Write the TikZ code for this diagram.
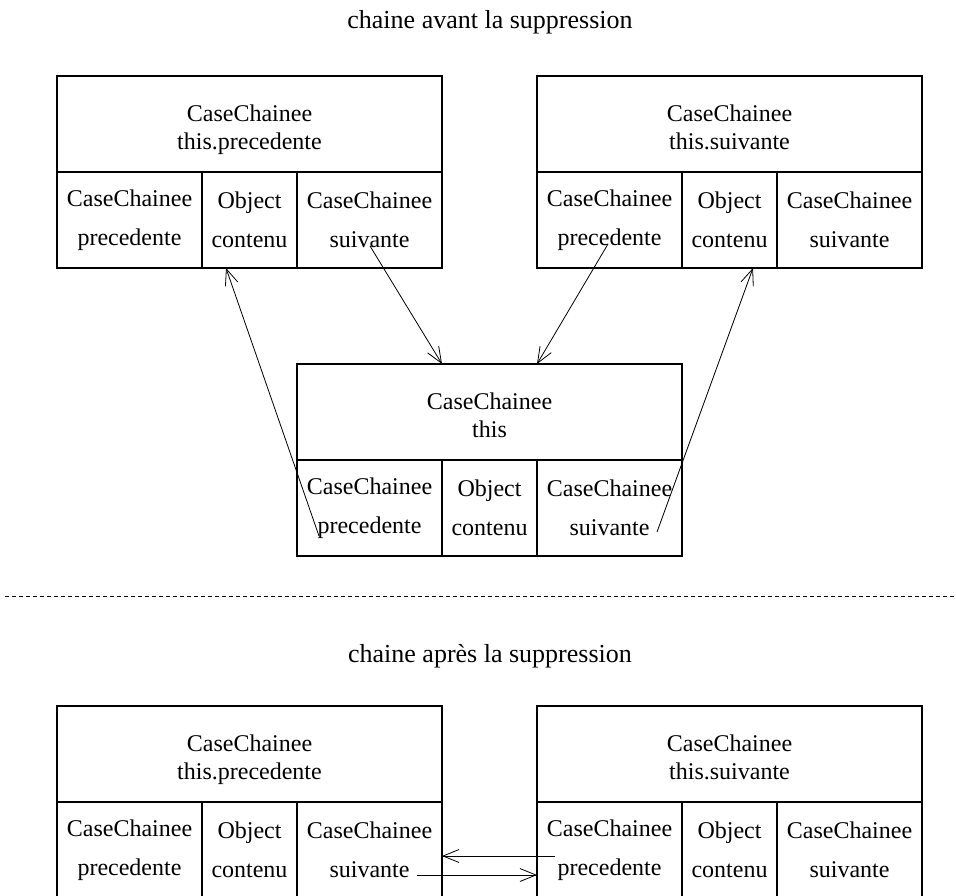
\documentclass[tikz,border=0pt]{standalone}
\usepackage{fontspec}
\setmainfont{Liberation Serif}
\usetikzlibrary{arrows.meta,calc}

% One linked-list cell: a header with the variable name and three fields below it
\newcommand\caseblock[4]{%
  \node[cellbox,minimum width=385pt,anchor=north west] (#1-h) at (#2,#3)
    {\rule{0pt}{30.4pt}CaseChainee\\#4\strut};
  \node[cellbox,minimum width=145pt,anchor=north west] (#1-p) at (#1-h.south west) {CaseChainee\\[11pt]precedente};
  \node[cellbox,minimum width=95pt,anchor=north west] (#1-o) at (#1-p.north east) {Object\\[11pt]contenu};
  \node[cellbox,minimum width=145pt,anchor=north west] (#1-s) at (#1-o.north east) {CaseChainee\\[11pt]suivante};
}

\begin{document}
\begin{tikzpicture}[x=1pt,y=-1pt,
  cellbox/.style={draw,line width=1.1pt,minimum height=96pt,inner sep=0pt,outer sep=0pt,
    align=center,font=\fontsize{24}{28}\selectfont},
  caption/.style={font=\fontsize{26}{31}\selectfont},
  link/.style={line width=0.8pt,-{Straight Barb[length=16pt,width=13pt,line width=0.8pt]}},
  separator/.style={line width=0.9pt,dash pattern=on 4pt off 3pt}]
\useasboundingbox (0,0) rectangle (956,895);

% before the removal
\node[caption] (t1) at (490,22) {chaine avant la suppression};
\caseblock{A}{57}{76}{this.precedente}
\caseblock{B}{537}{76}{this.suivante}
\caseblock{C}{297}{364}{this}

\coordinate (a1) at (370,246);
\coordinate (a2) at (608,244);
\coordinate (a3) at (319,536);
\coordinate (a4) at (657,532);
\draw[link] (a1) -- (C-p.north east |- C-h.north);
\draw[link] (a2) -- (C-o.north east |- C-h.north);
\draw[link] (a3) -- ($(A-o.south west)+(24,0)$);
\draw[link] (a4) -- ($(B-o.south west)+(71,0)$);

% separator
\coordinate (s1) at (5,596);
\coordinate (s2) at (956,596);
\draw[separator] (s1) -- (s2);

% after the removal
\node[caption] (t2) at (490,656) {chaine après la suppression};
\caseblock{D}{57}{706}{this.precedente}
\caseblock{E}{537}{706}{this.suivante}

\coordinate (b1) at (555,856);
\coordinate (b2) at (417,875);
\draw[link] (b1) -- (D-s.east |- b1);
\draw[link] (b2) -- (E-p.west |- b2);
\end{tikzpicture}
\end{document}
